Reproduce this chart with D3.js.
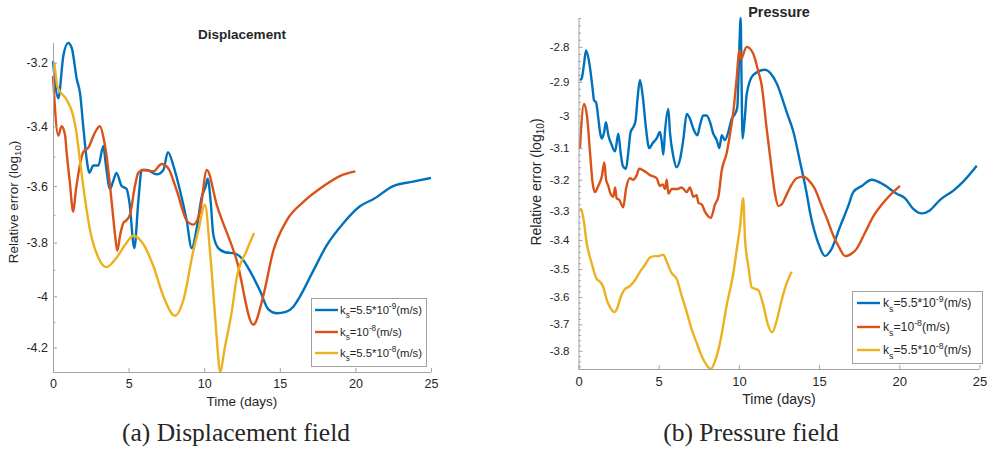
<!DOCTYPE html>
<html>
<head>
<meta charset="utf-8">
<script src="https://cdn.jsdelivr.net/npm/d3@7"></script>
<style>
  html, body { margin: 0; padding: 0; background: #fff; }
  svg { display: block; }
  text { font-family: "Liberation Sans", Arial, Helvetica, sans-serif; fill: #262626; }
</style>
</head>
<body>
<svg id="fig" width="991" height="454"></svg>
<script>
// ---- shared tick values ----
const xTicks = [0, 5, 10, 15, 20, 25];
const dispYTicks = [-3.2, -3.4, -3.6, -3.8, -4, -4.2];
const dispYMinor = [-3.3, -3.5, -3.7, -3.9, -4.1];
const presYTicks = [-2.8, -2.9, -3, -3.1, -3.2, -3.3, -3.4, -3.5, -3.6, -3.7, -3.8];
const presYMinor = d3.range(-2.72, -3.87, -0.02).map(v => +v.toFixed(2)).filter(v => Math.abs(Math.round(v * 10) - v * 10) > 1e-6);

// ---- legend entries: coefficient and exponent of k_s ----
const legendCoef = ["5.5*10", "10", "5.5*10"];
const legendExp = ["-9", "-8", "-8"];
const seriesColors = ["#0072BD", "#D95319", "#EDB120"];

// ---- Displacement field: log10 relative error vs time (days) ----
const dispT1 = [0, 0.35, 0.68, 1.0, 1.24, 1.57, 1.79, 2.0, 2.23, 2.4, 2.67, 3.0, 3.33, 3.5, 3.77, 4.0, 4.2, 4.54, 4.87, 5.05, 5.38, 5.64, 5.87, 6.2, 6.86, 7.3, 7.6, 7.96, 8.4, 8.84, 9.17, 9.5, 9.83, 10.1, 10.23, 10.43, 10.6, 10.93, 11.38, 12.04, 12.6, 13.03, 13.7, 14.24, 14.8, 15.4, 15.9, 16.34, 17.2, 18.1, 19.2, 20.3, 21.2, 22.5, 23.8, 25];
const dispE1 = [-3.195, -3.31, -3.18, -3.14, -3.155, -3.25, -3.295, -3.40, -3.51, -3.555, -3.53, -3.53, -3.465, -3.53, -3.61, -3.58, -3.555, -3.60, -3.61, -3.655, -3.82, -3.655, -3.545, -3.545, -3.56, -3.545, -3.485, -3.53, -3.615, -3.72, -3.82, -3.75, -3.64, -3.6, -3.575, -3.655, -3.77, -3.82, -3.835, -3.84, -3.865, -3.905, -3.98, -4.05, -4.065, -4.06, -4.04, -4.0, -3.905, -3.81, -3.73, -3.67, -3.645, -3.60, -3.585, -3.572];

const dispT2 = [0.0, 0.35, 0.57, 0.8, 0.9, 1.1, 1.34, 1.5, 1.67, 2.0, 2.34, 2.78, 3.1, 3.33, 3.55, 3.88, 4.1, 4.25, 4.45, 4.65, 4.85, 5.09, 5.42, 5.64, 5.97, 6.63, 7.19, 7.63, 8.18, 8.84, 9.28, 9.72, 10.17, 10.83, 12.15, 13.25, 13.9, 14.57, 15.46, 16.56, 17.9, 19.0, 20.0];
const dispE2 = [-3.24, -3.43, -3.40, -3.43, -3.485, -3.58, -3.69, -3.62, -3.56, -3.485, -3.47, -3.42, -3.40, -3.435, -3.50, -3.655, -3.77, -3.83, -3.77, -3.73, -3.72, -3.70, -3.60, -3.555, -3.545, -3.55, -3.525, -3.54, -3.615, -3.72, -3.735, -3.69, -3.545, -3.665, -3.865, -4.11, -4.0, -3.83, -3.72, -3.655, -3.60, -3.565, -3.55];

const dispT3 = [0.09, 0.3, 0.9, 1.3, 1.55, 1.75, 2.0, 2.45, 3.0, 3.55, 4.2, 4.87, 5.31, 5.97, 6.63, 7.3, 8.07, 8.62, 9.28, 9.6, 10.05, 10.38, 10.71, 10.93, 11.04, 11.38, 11.82, 12.15, 12.8, 13.3];
const dispE3 = [-3.2, -3.275, -3.315, -3.36, -3.42, -3.50, -3.60, -3.755, -3.855, -3.89, -3.855, -3.80, -3.775, -3.805, -3.885, -4.0, -4.075, -4.015, -3.83, -3.76, -3.665, -3.83, -4.07, -4.24, -4.30, -4.195, -4.06, -3.93, -3.83, -3.765];

// ---- Pressure field: log10 relative error vs time (days) ----
const presT1 = [0.09, 0.2, 0.34, 0.47, 0.67, 0.88, 0.97, 1.09, 1.24, 1.34, 1.45, 1.6, 1.71, 1.86, 2.07, 2.28, 2.48, 2.63, 2.76, 2.96, 3.1, 3.25, 3.42, 3.56, 3.67, 3.83, 4.0, 4.21, 4.41, 4.62, 4.87, 5.08, 5.19, 5.29, 5.39, 5.6, 5.7, 5.91, 6.12, 6.33, 6.53, 6.75, 6.95, 7.16, 7.41, 7.57, 7.78, 7.99, 8.2, 8.4, 8.62, 8.78, 8.93, 9.13, 9.34, 9.55, 9.76, 9.9, 9.96, 10.03, 10.11, 10.16, 10.23, 10.38, 10.49, 10.9, 11.63, 12.36, 12.98, 13.4, 13.8, 14.23, 14.43, 14.95, 15.37, 15.78, 16.3, 16.82, 17.13, 17.66, 18.28, 19.0, 19.84, 20.36, 20.87, 21.4, 21.9, 22.54, 23.37, 24.0, 24.83];
const presE1 = [-2.895, -2.89, -2.85, -2.81, -2.845, -2.92, -2.955, -2.96, -3.01, -3.05, -3.07, -3.05, -3.02, -3.06, -3.09, -3.11, -3.055, -3.115, -3.155, -3.165, -3.115, -3.05, -3.035, -3.015, -2.955, -2.895, -2.94, -3.04, -3.1, -3.085, -3.07, -3.05, -3.08, -3.12, -3.05, -2.98, -3.05, -3.125, -3.16, -3.135, -3.075, -2.995, -3.01, -3.04, -3.06, -3.03, -3.0, -3.0, -3.02, -3.055, -3.075, -3.1, -3.06, -3.075, -3.05, -3.01, -2.995, -2.975, -2.91, -2.80, -2.72, -2.88, -3.07, -3.0, -2.935, -2.88, -2.865, -2.905, -2.99, -3.05, -3.14, -3.245, -3.305, -3.41, -3.455, -3.43, -3.355, -3.285, -3.24, -3.22, -3.2, -3.215, -3.245, -3.26, -3.295, -3.31, -3.3, -3.265, -3.235, -3.205, -3.155];

const presT2 = [0.09, 0.34, 0.55, 0.72, 0.88, 1.03, 1.23, 1.45, 1.61, 1.72, 1.86, 1.96, 2.17, 2.28, 2.38, 2.54, 2.79, 2.96, 3.21, 3.42, 3.63, 3.79, 4.04, 4.46, 4.87, 5.08, 5.25, 5.39, 5.5, 5.6, 5.81, 6.12, 6.43, 6.75, 6.95, 7.16, 7.37, 7.47, 7.68, 7.89, 8.09, 8.25, 8.51, 8.72, 8.93, 9.24, 9.45, 9.65, 9.86, 10.03, 10.15, 10.2, 10.49, 10.9, 11.21, 11.42, 11.73, 12.04, 12.25, 12.46, 12.67, 12.87, 13.19, 13.6, 14.02, 14.33, 14.74, 15.16, 15.47, 15.89, 16.3, 16.62, 16.93, 17.34, 17.86, 18.38, 19.0, 20.04];
const presE2 = [-3.1, -2.965, -3.01, -3.115, -3.21, -3.24, -3.22, -3.19, -3.145, -3.2, -3.22, -3.24, -3.255, -3.225, -3.26, -3.265, -3.29, -3.23, -3.195, -3.2, -3.185, -3.165, -3.17, -3.185, -3.195, -3.22, -3.215, -3.23, -3.2, -3.245, -3.23, -3.23, -3.225, -3.24, -3.225, -3.255, -3.25, -3.275, -3.28, -3.305, -3.32, -3.325, -3.28, -3.255, -3.17, -3.115, -3.055, -2.99, -2.89, -2.81, -2.835, -2.83, -2.8, -2.82, -2.87, -2.91, -3.04, -3.165, -3.245, -3.285, -3.28, -3.26, -3.225, -3.195, -3.19, -3.2, -3.23, -3.285, -3.325, -3.385, -3.43, -3.455, -3.45, -3.43, -3.375, -3.32, -3.275, -3.22];

const presT3 = [0.09, 0.16, 0.3, 0.51, 0.82, 1.13, 1.34, 1.55, 1.76, 2.0, 2.23, 2.42, 2.63, 2.84, 3.21, 3.52, 3.83, 4.15, 4.46, 4.77, 4.98, 5.29, 5.5, 5.81, 6.12, 6.43, 6.75, 7.06, 7.37, 7.68, 7.99, 8.24, 8.51, 8.82, 9.24, 9.65, 9.9, 10.07, 10.27, 10.38, 10.59, 10.8, 11.0, 11.21, 11.52, 11.83, 12.08, 12.36, 12.67, 12.98, 13.29];
const presE3 = [-3.30, -3.295, -3.325, -3.41, -3.48, -3.535, -3.545, -3.565, -3.61, -3.64, -3.655, -3.64, -3.6, -3.575, -3.56, -3.54, -3.51, -3.485, -3.46, -3.455, -3.455, -3.45, -3.475, -3.515, -3.535, -3.595, -3.655, -3.72, -3.77, -3.82, -3.855, -3.87, -3.84, -3.77, -3.63, -3.515, -3.42, -3.355, -3.26, -3.395, -3.49, -3.565, -3.57, -3.575, -3.63, -3.705, -3.73, -3.685, -3.61, -3.55, -3.51];

const svg = d3.select("#fig");
const axisGrey = "#a3a3a3";
const curveWidth = 2.4;

function drawPanel(p) {
  const g = svg.append("g");
  const x = d3.scaleLinear().domain([0, 25]).range([p.left, p.right]);
  // log-scaled y axis over negative log10 values
  const y = d3.scaleLog().domain(p.yDomain).range([p.top, p.bottom]);

  // curves
  const line = d3.line().x(d => x(d[0])).y(d => y(d[1])).curve(d3.curveMonotoneX);
  p.series.forEach((s, i) => {
    g.append("path")
      .datum(d3.zip(s[0], s[1]))
      .attr("d", line)
      .attr("fill", "none")
      .attr("stroke", seriesColors[i])
      .attr("stroke-width", curveWidth)
      .attr("stroke-linejoin", "round");
  });

  // x axis
  const xa = g.append("g").attr("transform", `translate(0,${p.bottom})`)
    .call(d3.axisBottom(x).tickValues(xTicks).tickSizeInner(-4).tickSizeOuter(0).tickPadding(p.xPad));
  xa.selectAll("text").attr("font-size", p.tickFont).attr("fill", "#262626")
    .style("font-family", "Liberation Sans, Arial, sans-serif");

  // y axis (major + minor)
  const ya = g.append("g").attr("transform", `translate(${p.left},0)`)
    .call(d3.axisLeft(y).tickValues(p.yTicks).tickFormat(d => String(d)).tickSizeInner(-4).tickSizeOuter(0).tickPadding(p.yPad));
  ya.selectAll("text").attr("font-size", p.yTickFont).attr("fill", "#262626")
    .style("font-family", "Liberation Sans, Arial, sans-serif");
  const ym = g.append("g").attr("transform", `translate(${p.left},0)`)
    .call(d3.axisLeft(y).tickValues(p.yMinor).tickFormat("").tickSizeInner(-2.5).tickSizeOuter(0));
  ym.select(".domain").remove();

  [xa, ya, ym].forEach(a => {
    a.selectAll(".domain").attr("stroke", axisGrey);
    a.selectAll(".tick line").attr("stroke", axisGrey);
  });
  ya.select(".domain").attr("d", `M0.5,${p.top}V${p.bottom}`);
  xa.select(".domain").attr("d", `M${p.left},0.5H${p.right}`);

  // title
  g.append("text").attr("x", p.titleX).attr("y", p.titleY)
    .attr("text-anchor", "middle").attr("font-weight", "bold")
    .attr("font-size", p.titleFont).attr("fill", "#000").text(p.title);

  // axis labels
  g.append("text").attr("x", (p.left + p.right) / 2).attr("y", p.xLabelY)
    .attr("text-anchor", "middle").attr("font-size", p.labelFont).text("Time (days)");
  const yl = g.append("text")
    .attr("transform", `translate(${p.yLabelX},${p.yLabelY}) rotate(-90)`)
    .attr("text-anchor", "middle").attr("font-size", p.labelFont);
  yl.append("tspan").text("Relative error (log");
  yl.append("tspan").attr("font-size", p.labelFont * 0.72).attr("dy", 3).text("10");
  yl.append("tspan").attr("dy", -3).text(")");

  // legend
  const L = p.legend;
  g.append("rect").attr("x", L.x + 0.5).attr("y", L.y + 0.5)
    .attr("width", L.w).attr("height", L.h)
    .attr("fill", "#fff").attr("stroke", "#a0a0a0").attr("stroke-width", 1);
  legendCoef.forEach((c, i) => {
    const cy = L.rows[i];
    g.append("line").attr("x1", L.lineX0).attr("x2", L.lineX1)
      .attr("y1", cy).attr("y2", cy)
      .attr("stroke", seriesColors[i]).attr("stroke-width", curveWidth);
    const t = g.append("text").attr("x", L.textX).attr("y", cy + L.font * 0.36)
      .attr("font-size", L.font);
    t.append("tspan").text("k");
    t.append("tspan").attr("font-size", L.font * 0.72).attr("dy", L.font * 0.38).text("s");
    t.append("tspan").attr("font-size", L.font).attr("dy", -L.font * 0.38).text("=" + c);
    t.append("tspan").attr("font-size", L.font * 0.72).attr("dy", -L.font * 0.42).text(legendExp[i]);
    t.append("tspan").attr("font-size", L.font).attr("dy", L.font * 0.42).text("(m/s)");
  });
}

drawPanel({
  left: 53, right: 431, top: 43, bottom: 372,
  yDomain: [-3.14, -4.30],
  yTicks: dispYTicks, yMinor: dispYMinor,
  series: [[dispT1, dispE1], [dispT2, dispE2], [dispT3, dispE3]],
  tickFont: 12.5, yTickFont: 12.5, xPad: 7, yPad: 5,
  title: "Displacement", titleX: 242, titleY: 39, titleFont: 13.5,
  labelFont: 13.5, xLabelY: 406, yLabelX: 18, yLabelY: 202,
  legend: { x: 311, y: 298, w: 115, h: 68, rows: [310, 332, 353], lineX0: 315, lineX1: 338, textX: 340, font: 11.3 }
});

drawPanel({
  left: 578.5, right: 979.5, top: 18, bottom: 369,
  yDomain: [-2.72, -3.87],
  yTicks: presYTicks, yMinor: presYMinor,
  series: [[presT1, presE1], [presT2, presE2], [presT3, presE3]],
  tickFont: 13, yTickFont: 11.5, xPad: 8, yPad: 9,
  title: "Pressure", titleX: 779, titleY: 17, titleFont: 14.4,
  labelFont: 14, xLabelY: 404, yLabelX: 541, yLabelY: 182,
  legend: { x: 852, y: 291, w: 130, h: 72, rows: [303, 327, 350], lineX0: 857, lineX1: 880, textX: 883, font: 12.2 }
});

// sub-figure captions
svg.append("text").attr("x", 236).attr("y", 441).attr("text-anchor", "middle")
  .style("font-family", "Liberation Serif, Times New Roman, serif").attr("font-size", 25.5)
  .attr("fill", "#111").text("(a) Displacement field");
svg.append("text").attr("x", 751).attr("y", 441).attr("text-anchor", "middle")
  .style("font-family", "Liberation Serif, Times New Roman, serif").attr("font-size", 25.5)
  .attr("fill", "#111").text("(b) Pressure field");
</script>
</body>
</html>
